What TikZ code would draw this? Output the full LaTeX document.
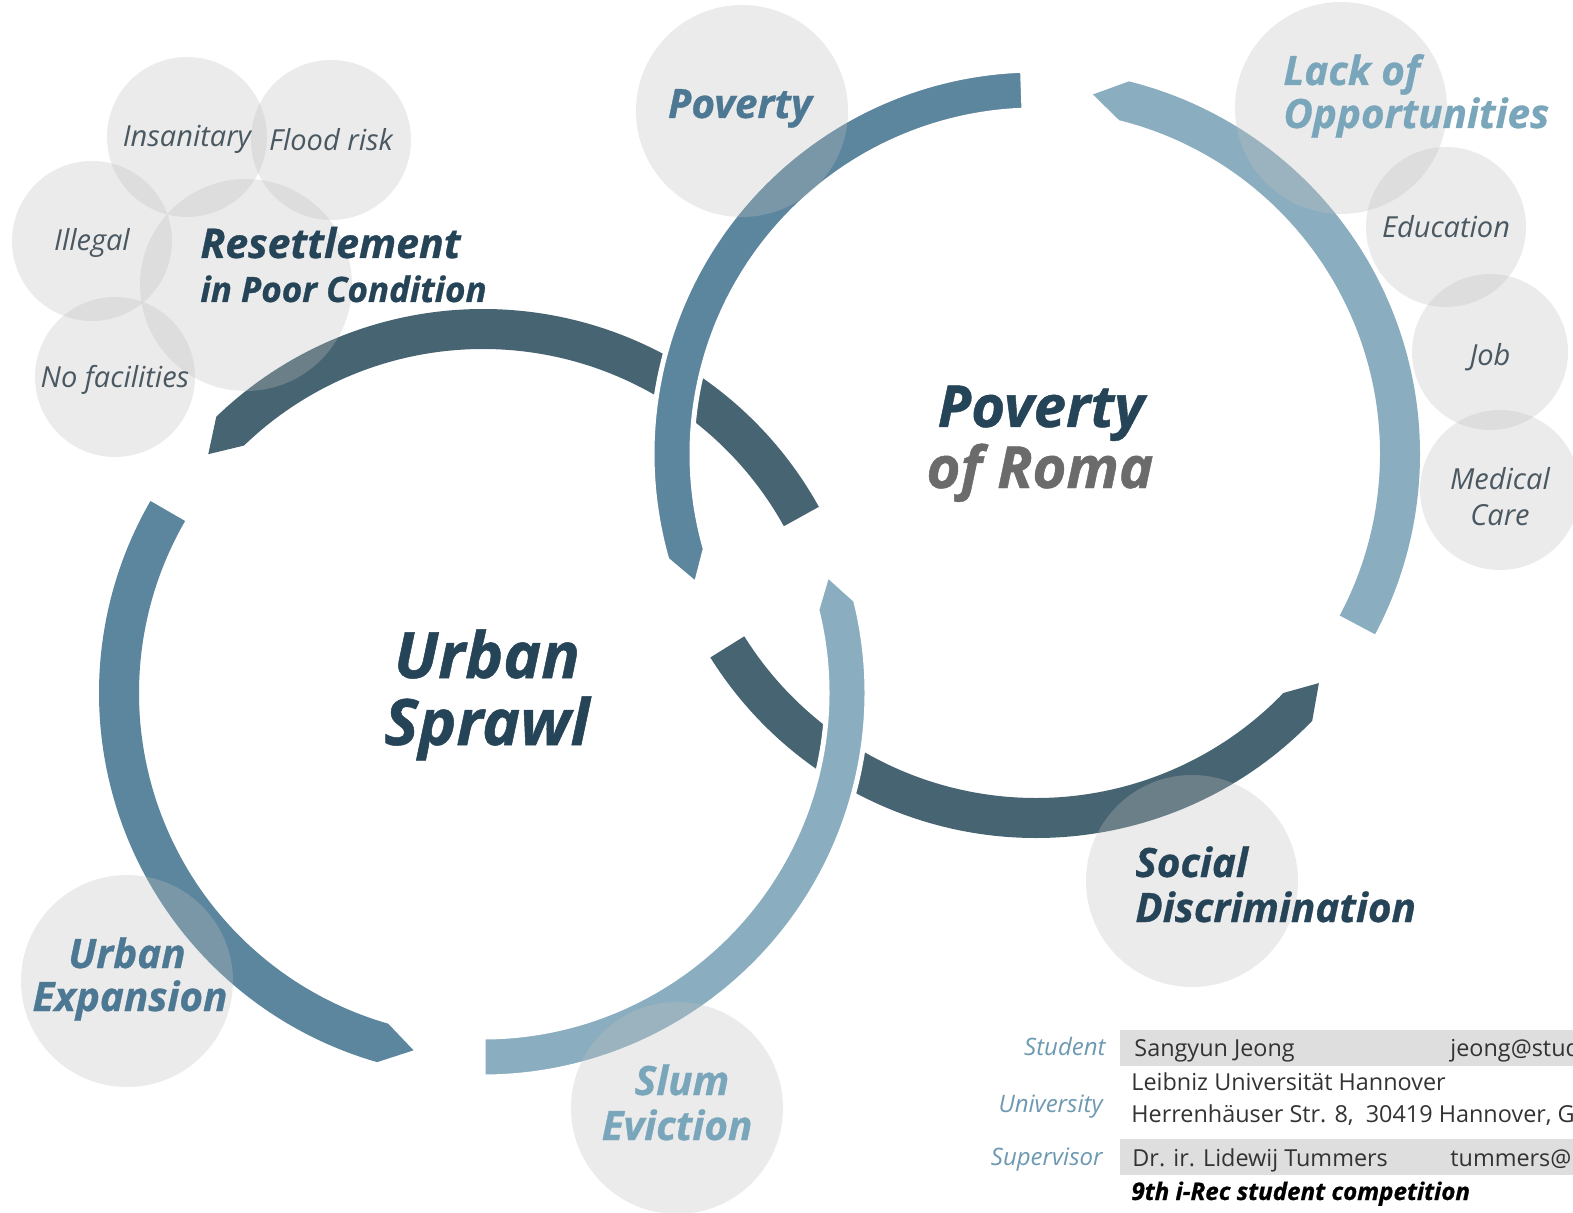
\documentclass[tikz,border=0pt]{standalone}
\usepackage{fontspec}
\setmainfont{Open Sans}[BoldItalicFeatures={FakeBold=0.8}]
\definecolor{arcdark}{HTML}{476473}
\definecolor{arcmid}{HTML}{5C869E}
\definecolor{arclight}{HTML}{8AAEC0}
\definecolor{bubgray}{HTML}{BFBFBF}
\definecolor{darktxt}{HTML}{264457}
\definecolor{midtxt}{HTML}{4D7893}
\definecolor{lighttxt}{HTML}{7AA6BC}
\definecolor{graytxt}{HTML}{6B6B6B}
\definecolor{smalltxt}{HTML}{4A5862}
\definecolor{labeltxt}{HTML}{6E99B2}
\definecolor{tabletxt}{HTML}{333333}
\definecolor{barfill}{HTML}{DEDEDE}
\newcommand\arcband[5]{%
  \path[#5] ([shift={(#3:384)}]#1,#2) arc[start angle=#3, end angle=#4, radius=384]
    -- ([shift={({#4+5}:364)}]#1,#2)
    -- ([shift={(#4:344)}]#1,#2) arc[start angle=#4, end angle=#3, radius=344] -- cycle;}
\begin{document}
\begin{tikzpicture}[x=0.5pt,y=0.5pt,
  bub/.style={circle, fill=bubgray, fill opacity=0.3, inner sep=0pt, draw=none},
  bigtxt/.style={inner sep=0pt, font=\fontsize{32}{36}\selectfont\bfseries\itshape, text=darktxt},
  rtxt/.style={inner sep=0pt, font=\fontsize{29}{32}\selectfont\bfseries\itshape},
  midlab/.style={inner sep=0pt, font=\fontsize{20.2}{22}\selectfont\bfseries\itshape},
  smalllab/.style={inner sep=0pt, font=\fontsize{14.5}{17}\selectfont\itshape, text=smalltxt},
  rowlab/.style={inner sep=0pt, font=\fontsize{12}{14}\selectfont\itshape, text=labeltxt, anchor=base east},
  rowtxt/.style={inner sep=0pt, font=\fontsize{11.7}{14}\selectfont, text=tabletxt, anchor=base west},
  barbox/.style={fill=barfill, draw=none, inner sep=0pt, anchor=south west, minimum width=226.5pt, minimum height=18pt},
  over/.style={draw=white, line width=2.5pt, line join=round}]
\useasboundingbox (0,0) rectangle (1573,1212);
\fill[white] (0,0) rectangle (1573,1212);
% ---- ring bands ----
\arcband{483}{519}{29}{134}{fill=arcdark}
\arcband{1036}{758}{212}{316}{fill=arcdark}
\arcband{1036}{758}{92}{196}{fill=arcmid, over}
\arcband{483}{519}{270}{374}{fill=arclight, over}
\arcband{483}{519}{150}{254}{fill=arcmid}
\arcband{1036}{758}{-28}{76}{fill=arclight}
% ---- bubbles ----
\node[bub, minimum size=80pt] (bInsan) at (187,1075) {};
\node[bub, minimum size=80pt] (bFlood) at (331,1072) {};
\node[bub, minimum size=80pt] (bIlleg) at (92,971) {};
\node[bub, minimum size=106pt] (bReset) at (246,927) {};
\node[bub, minimum size=80pt] (bNofac) at (115,835) {};
\node[bub, minimum size=106pt] (bPov) at (742,1101) {};
\node[bub, minimum size=106pt] (bLack) at (1341,1104) {};
\node[bub, minimum size=80pt] (bEdu) at (1446,985) {};
\node[bub, minimum size=78pt] (bJob) at (1490,860) {};
\node[bub, minimum size=80pt] (bMed) at (1500,722) {};
\node[bub, minimum size=106pt] (bSoc) at (1192,331) {};
\node[bub, minimum size=106pt] (bExp) at (127,231) {};
\node[bub, minimum size=106pt] (bSlum) at (677,104) {};
% ---- main titles ----
\node[bigtxt, anchor=base] (tUrban) at (487,534) {Urban};
\node[bigtxt, anchor=base] (tSprawl) at (487,467) {Sprawl};
\node[rtxt, anchor=base, text=darktxt] (tPoverty) at (1041,785) {Poverty};
\node[rtxt, anchor=base, text=graytxt] (tRoma) at (1040,724) {of Roma};
% ---- medium labels ----
\node[midlab, anchor=base west, text=darktxt, font=\fontsize{20.5}{22}\selectfont\bfseries\itshape] (tRes1) at (200,954) {Resettlement};
\node[midlab, anchor=base west, text=darktxt, font=\fontsize{17.5}{20}\selectfont\bfseries\itshape] (tRes2) at (200,910) {in Poor Condition};
\node[midlab, anchor=base, text=midtxt] (tPov) at (740,1094) {Poverty};
\node[midlab, anchor=base west, text=lighttxt] (tLack1) at (1283,1127) {Lack of};
\node[midlab, anchor=base west, text=lighttxt] (tLack2) at (1283,1084) {Opportunities};
\node[midlab, anchor=base west, text=darktxt] (tSoc1) at (1135,335) {Social};
\node[midlab, anchor=base west, text=darktxt] (tSoc2) at (1135,290) {Discrimination};
\node[midlab, anchor=base, text=midtxt] (tExp1) at (127,244) {Urban};
\node[midlab, anchor=base, text=midtxt] (tExp2) at (130,201) {Expansion};
\node[midlab, anchor=base, text=lighttxt] (tSlum1) at (682,117) {Slum};
\node[midlab, anchor=base, text=lighttxt] (tSlum2) at (677,72) {Eviction};
% ---- small labels ----
\node[smalllab, anchor=base] (tInsan) at (187,1065) {Insanitary};
\node[smalllab, anchor=base] (tFlood) at (331,1061) {Flood risk};
\node[smalllab, anchor=base] (tIlleg) at (92,961) {Illegal};
\node[smalllab, anchor=base] (tNofac) at (115,824) {No facilities};
\node[smalllab, anchor=base] (tEdu) at (1446,974) {Education};
\node[smalllab, anchor=base] (tJob) at (1490,846) {Job};
\node[smalllab, anchor=base] (tMed1) at (1500,722) {Medical};
\node[smalllab, anchor=base] (tMed2) at (1500,687) {Care};
% ---- credits table ----
\begin{scope}
\clip (0,0) rectangle (1573,1212);
\node[barbox] (bar1) at (1120,146) {};
\node[barbox] (bar3) at (1120,37) {};
\node[rowlab] (lStud) at (1106,157) {Student};
\node[rowlab] (lUni) at (1103,100) {University};
\node[rowlab] (lSup) at (1103,47) {Supervisor};
\node[rowtxt] (sName) at (1134,156) {Sangyun Jeong};
\node[rowtxt] (sMail) at (1450,156) {jeong@stud};
\node[rowtxt] (uName) at (1131,122) {Leibniz Universität Hannover};
\node[rowtxt] (uAddr) at (1131,90) {Herrenhäuser Str. 8,\ \ 30419 Hannover, G};
\node[rowtxt] (pName) at (1132,46) {Dr. ir. Lidewij Tummers};
\node[rowtxt] (pMail) at (1450,46) {tummers@};
\node[rowtxt, font=\fontsize{12.1}{14}\selectfont\bfseries\itshape, text=black] (comp) at (1131,12) {9th i-Rec student competition};
\end{scope}
\end{tikzpicture}
\end{document}
